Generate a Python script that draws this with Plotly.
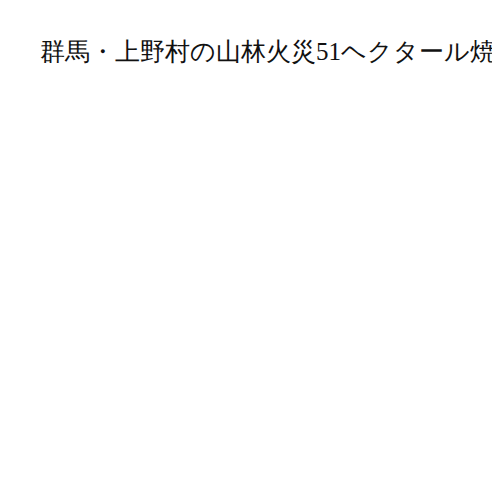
import plotly.graph_objects as go

title_text = '群馬・上野村の山林火災51ヘクタール焼失'

# no visible data in the chart
categories = []
values = []

fig = go.Figure(go.Bar(x=categories, y=values))

fig.update_layout(
    width=500, height=500,
    title=dict(
        text=title_text,
        x=0.064, xanchor='left',
        y=0.914, yanchor='middle',
        font=dict(family='serif', size=25, color='#111'),
    ),
    paper_bgcolor='white',
    plot_bgcolor='white',
    xaxis=dict(visible=False),
    yaxis=dict(visible=False),
    showlegend=False,
    margin=dict(l=40, r=40, t=100, b=40),
)

fig.write_html("out.html")
